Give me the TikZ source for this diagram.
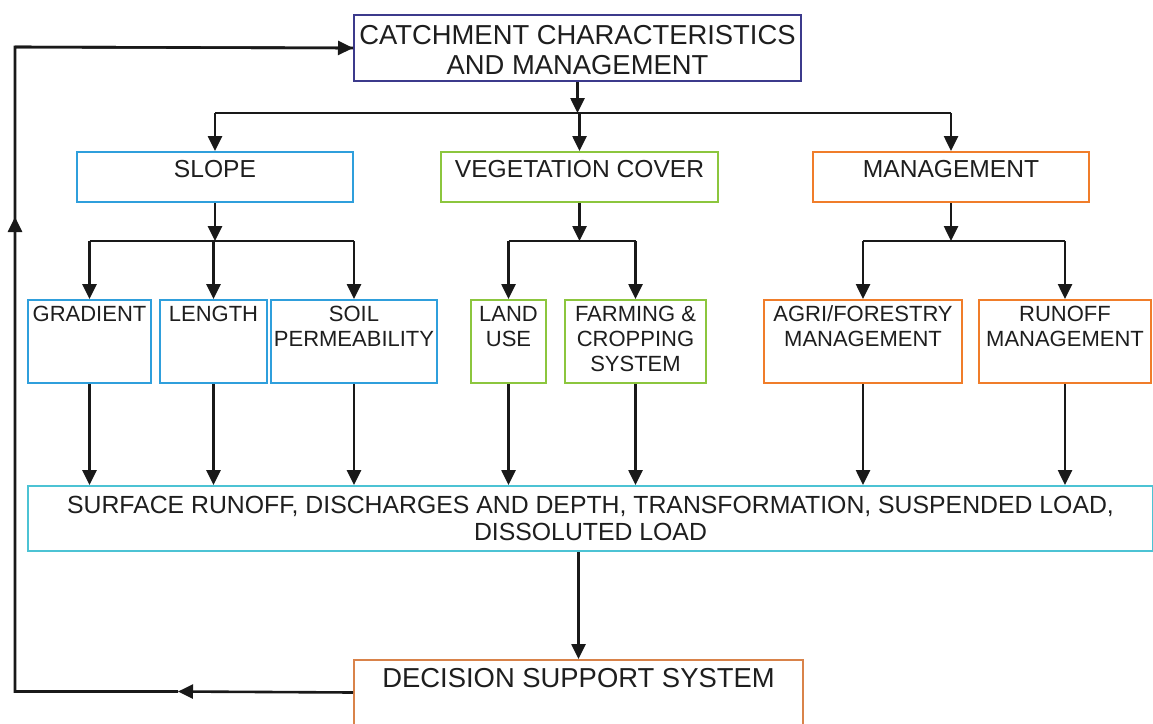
\documentclass[tikz,border=0pt]{standalone}
\usepackage{fontspec}
\setmainfont{Liberation Sans}
\usetikzlibrary{arrows.meta,calc}
\definecolor{cTop}{HTML}{3C3A8C}
\definecolor{cBlue}{HTML}{2F9FDC}
\definecolor{cGreen}{HTML}{8CC63E}
\definecolor{cOrange}{HTML}{F07D2A}
\definecolor{cCyan}{HTML}{4CC3D4}
\definecolor{cDss}{HTML}{D9834A}
\definecolor{cText}{HTML}{1E1E1E}
% width, height, font size, line skip, first baseline, text
\newcommand{\boxtext}[6]{\parbox[t][#2pt][t]{#1pt}{\centering\fontsize{#3pt}{#4pt}\selectfont\color{cText}\rule{0pt}{#5pt}#6}}
\tikzset{
  bx/.style={draw, line width=2pt, inner sep=0pt, rectangle, anchor=north west},
  conn/.style={line width=2.6pt, black!90},
  arr/.style={conn, -{Triangle[length=15pt,width=14pt]}},
}
\begin{document}
\begin{tikzpicture}[x=1pt,y=-1pt]
\useasboundingbox (0,0) rectangle (1153,723);
\fill[white] (0,0) rectangle (1153,723);

% boxes
\node[bx,draw=cTop] (top) at (353,14) {\boxtext{447}{66}{27.4}{30}{29}{CATCHMENT CHARACTERISTICS\\AND MANAGEMENT}};

\node[bx,draw=cBlue] (slope) at (76,151) {\boxtext{276}{50}{24.6}{27}{25}{SLOPE}};
\node[bx,draw=cGreen] (veg) at (440,151) {\boxtext{277}{50}{24.6}{27}{25}{VEGETATION COVER}};
\node[bx,draw=cOrange] (mgmt) at (812,151) {\boxtext{276}{50}{24.6}{27}{25}{MANAGEMENT}};

\node[bx,draw=cBlue] (grad) at (27,299) {\boxtext{123}{83}{22}{25}{21}{GRADIENT}};
\node[bx,draw=cBlue] (len) at (159,299) {\boxtext{107}{83}{22}{25}{21}{LENGTH}};
\node[bx,draw=cBlue] (soil) at (270,299) {\boxtext{166}{83}{22}{25}{21}{SOIL\\PERMEABILITY}};
\node[bx,draw=cGreen] (land) at (470,299) {\boxtext{75}{83}{22}{25}{21}{LAND\\USE}};
\node[bx,draw=cGreen] (farm) at (564,299) {\boxtext{141}{83}{22}{25}{21}{FARMING \&\\CROPPING\\SYSTEM}};
\node[bx,draw=cOrange] (agri) at (763,299) {\boxtext{198}{83}{22}{25}{21}{AGRI/FORESTRY\\MANAGEMENT}};
\node[bx,draw=cOrange] (roff) at (978,299) {\boxtext{172}{83}{22}{25}{21}{RUNOFF\\MANAGEMENT}};

\node[bx,draw=cCyan] (surf) at (27,485) {\boxtext{1125}{65}{24.8}{27}{27}{SURFACE RUNOFF, DISCHARGES AND DEPTH, TRANSFORMATION, SUSPENDED LOAD,\\DISSOLUTED LOAD}};

\node[bx,draw=cDss] (dss) at (353,659) {\boxtext{449}{65}{27.4}{30}{27}{DECISION SUPPORT SYSTEM}};

% bus coordinates
\coordinate (b1) at (577,113);
\coordinate (b2) at (214,241);
\coordinate (b3) at (578,241);
\coordinate (b4) at (950,241);

% top -> level 2
\draw[arr] (top.south) -- (top.south |- b1);
\draw[conn] (b1 -| slope.north) -- (b1 -| mgmt.north);
\draw[arr] (b1 -| slope.north) -- (slope.north);
\draw[arr] (b1 -| veg.north) -- (veg.north);
\draw[arr] (b1 -| mgmt.north) -- (mgmt.north);

% slope -> level 3
\draw[arr] (slope.south) -- (slope.south |- b2);
\draw[conn] (b2 -| grad.north) -- (b2 -| soil.north);
\draw[arr] (b2 -| grad.north) -- (grad.north);
\draw[arr] (b2 -| len.north) -- (len.north);
\draw[arr] (b2 -| soil.north) -- (soil.north);

% vegetation -> level 3
\draw[arr] (veg.south) -- (veg.south |- b3);
\draw[conn] (b3 -| land.north) -- (b3 -| farm.north);
\draw[arr] (b3 -| land.north) -- (land.north);
\draw[arr] (b3 -| farm.north) -- (farm.north);

% management -> level 3
\draw[arr] (mgmt.south) -- (mgmt.south |- b4);
\draw[conn] (b4 -| agri.north) -- (b4 -| roff.north);
\draw[arr] (b4 -| agri.north) -- (agri.north);
\draw[arr] (b4 -| roff.north) -- (roff.north);

% level 3 -> surface
\foreach \n in {grad,len,soil,land,farm,agri,roff}{
  \draw[arr] (\n.south) -- (\n.south |- surf.north);
}

% surface -> dss
\draw[arr] (dss.north |- surf.south) -- (dss.north);

% feedback loop
\coordinate (m1) at (178,691.5);
\coordinate (c1) at (15,691.5);
\coordinate (m2) at (15,217);
\coordinate (c2) at (15,47);
\draw[arr] (dss.west) -- (m1);
\draw[conn,line join=miter] (m1) -- (c1) -- (m2) -- (c2) -- (top.west);
\draw[arr] (c1) -- (m2);
\draw[arr] (c2) -- (top.west);
\end{tikzpicture}
\end{document}
